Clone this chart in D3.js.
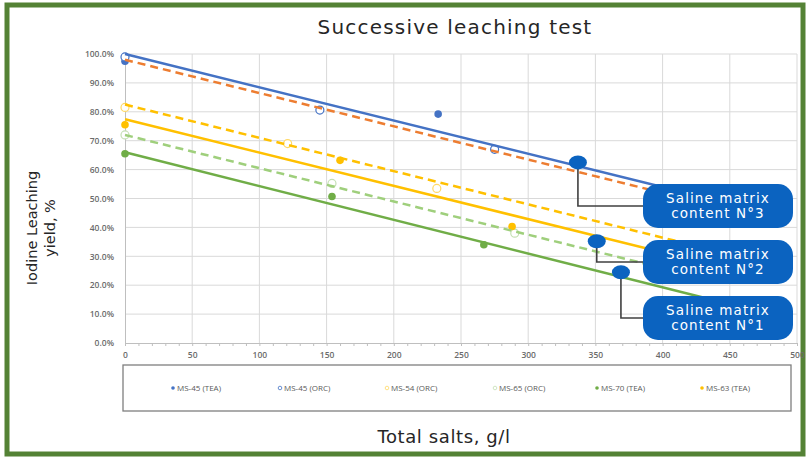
<!DOCTYPE html>
<html><head><meta charset="utf-8">
<script src="https://cdn.jsdelivr.net/npm/d3@7"></script>
<style>body{margin:0;background:#fff}svg{display:block}</style>
</head><body>
<svg id="c" width="808" height="459"></svg>
<script>
// ---- data ----
const xTicks = [0,50,100,150,200,250,300,350,400,450,500];
const yTicks = [0,0.1,0.2,0.3,0.4,0.5,0.6,0.7,0.8,0.9,1.0];
const seriesNames = ["MS-45 (TEA)","MS-45 (ORC)","MS-54 (ORC)","MS-65 (ORC)","MS-70 (TEA)","MS-63 (TEA)"];
const ms45TEA = [[0,0.975],[233,0.792]];
const ms45ORC = [[0,0.99],[145,0.806],[275,0.67]];
const ms54ORC = [[0,0.815],[121,0.69],[232,0.535]];
const ms65ORC = [[0,0.72],[154,0.552],[290,0.38]];
const ms70TEA = [[0,0.655],[154,0.507],[267,0.34]];
const ms63TEA = [[0,0.755],[160,0.632],[288,0.403]];
// trend lines (start / end)
const trendBlue = [[0,1.0],[430,0.505]];
const trendOrange = [[0,0.98],[430,0.485]];
const trendYellowDash = [[0,0.825],[430,0.33]];
const trendYellow = [[0,0.774],[430,0.279]];
const trendGreenDash = [[0,0.72],[430,0.225]];
const trendGreen = [[0,0.66],[445,0.14]];
// callouts: marker position and label
const calloutPoints = [[337,0.625],[351,0.352],[369,0.245]];
const calloutLabels = [["Saline matrix","content N°3"],["Saline matrix","content N°2"],["Saline matrix","content N°1"]];

const svg = d3.select("#c");
const W=808,H=459;
// green frame
svg.append("rect").attr("x",7).attr("y",5).attr("width",W-12).attr("height",H-10)
  .attr("fill","#fff").attr("stroke","#548235").attr("stroke-width",5);

const x = d3.scaleLinear().domain([0,500]).range([125,797]);
const y = d3.scaleLinear().domain([0,1]).range([343,54]);

// grid
const g = svg.append("g");
g.selectAll(".gx").data(xTicks.slice(1)).join("line")
  .attr("x1",d=>x(d)).attr("x2",d=>x(d)).attr("y1",y(1)).attr("y2",y(0))
  .attr("stroke","#d9d9d9").attr("stroke-width",1);
g.selectAll(".gy").data(yTicks.slice(1)).join("line")
  .attr("x1",x(0)).attr("x2",x(500)).attr("y1",d=>y(d)).attr("y2",d=>y(d))
  .attr("stroke","#d9d9d9").attr("stroke-width",1);

// axes
const xAxis = d3.axisBottom(x).tickValues(d3.range(0,501,10)).tickSize(3).tickFormat("");
const xa = svg.append("g").attr("transform",`translate(0,${y(0)})`).call(xAxis);
xa.select(".domain").attr("stroke","#bfbfbf");
xa.selectAll(".tick line").attr("stroke","#bfbfbf");
const xLab = d3.axisBottom(x).tickValues(xTicks).tickSize(0).tickPadding(9);
const xl = svg.append("g").attr("transform",`translate(0,${y(0)})`).call(xLab);
xl.select(".domain").remove();
xl.selectAll("text").attr("fill","#6b6b6b").attr("font-size","8.5px").attr("font-weight","600")
  .attr("font-family","'Open Sans',sans-serif");

const yAxis = d3.axisLeft(y).tickValues(yTicks).tickSize(0).tickPadding(11).tickFormat(d3.format(".1%"));
const ya = svg.append("g").attr("transform",`translate(${x(0)},0)`).call(yAxis);
ya.select(".domain").attr("stroke","#bfbfbf");
ya.selectAll("text").attr("fill","#6b6b6b").attr("font-size","8.5px").attr("font-weight","600")
  .attr("font-family","'Open Sans',sans-serif");

// points (drawn below trend lines)
const pts = [
  [ms45TEA,"#4472c4",true],
  [ms45ORC,"#4472c4",false],
  [ms54ORC,"#ffd966",false],
  [ms65ORC,"#c5e0b4",false],
  [ms70TEA,"#70ad47",true],
  [ms63TEA,"#ffc000",true]
];
pts.forEach(([d,c,filled])=>{
  svg.append("g").selectAll("circle").data(d).join("circle")
    .attr("cx",p=>x(p[0])).attr("cy",p=>y(p[1])).attr("r",filled?3.8:4)
    .attr("fill",filled?c:"#fff").attr("stroke",c).attr("stroke-width",filled?0:1.2);
});

// trend lines
const line = d3.line().x(d=>x(d[0])).y(d=>y(d[1]));
const trends = [
  [trendGreen,"#70ad47",null],
  [trendGreenDash,"#9fcf7c","8,5"],
  [trendYellow,"#ffc000",null],
  [trendYellowDash,"#ffc000","8,5"],
  [trendOrange,"#ed7d31","8,5"],
  [trendBlue,"#4472c4",null]
];
trends.forEach(([d,c,da])=>{
  svg.append("path").attr("d",line(d)).attr("fill","none").attr("stroke",c)
    .attr("stroke-width",2.5).attr("stroke-dasharray",da);
});

// callouts
const boxY = [184,240,296];
calloutPoints.forEach((p,i)=>{
  const cx=x(p[0]), cy=y(p[1]), by=boxY[i], mid=by+22;
  svg.append("path").attr("d",`M${cx},${cy}V${mid}H645`).attr("fill","none")
    .attr("stroke","#404040").attr("stroke-width",1.6);
  svg.append("ellipse").attr("cx",cx).attr("cy",cy).attr("rx",9).attr("ry",7)
    .attr("fill","#0b63c0");
  svg.append("rect").attr("x",643).attr("y",by).attr("width",150).attr("height",44)
    .attr("rx",15).attr("fill","#0b63c0");
  const t = svg.append("text").attr("x",718).attr("y",mid-3).attr("text-anchor","middle")
    .attr("fill","#fff").attr("font-size","13.5px").attr("letter-spacing","1.1px")
    .attr("font-family","'DejaVu Sans',sans-serif");
  t.append("tspan").attr("x",718).attr("dy",0).text(calloutLabels[i][0]);
  t.append("tspan").attr("x",718).attr("dy",15).text(calloutLabels[i][1]);
});

// legend
svg.append("rect").attr("x",123).attr("y",365).attr("width",668).attr("height",46)
  .attr("fill","#fff").attr("stroke","#7f7f7f").attr("stroke-width",1.3);
const legX = [173,280,387,495,597,702];
seriesNames.forEach((n,i)=>{
  const [,c,filled]=pts[i];
  svg.append("circle").attr("cx",legX[i]).attr("cy",388).attr("r",1.8)
    .attr("fill",filled?c:"#fff").attr("stroke",c).attr("stroke-width",filled?0:0.8);
  svg.append("text").attr("x",legX[i]+4).attr("y",391).text(n)
    .attr("fill","#595959").attr("font-size","8px").attr("font-family","'Open Sans',sans-serif");
});

// titles
svg.append("text").attr("x",455).attr("y",34).attr("text-anchor","middle")
  .attr("font-size","20px").attr("letter-spacing","1.2px").attr("fill","#262626")
  .attr("font-family","'DejaVu Sans',sans-serif")
  .text("Successive leaching test");
svg.append("text").attr("x",444).attr("y",443).attr("text-anchor","middle")
  .attr("font-size","18px").attr("letter-spacing","0.6px").attr("fill","#262626")
  .attr("font-family","'DejaVu Sans',sans-serif")
  .text("Total salts, g/l");
const yt = svg.append("text").attr("transform","translate(37,228) rotate(-90)").attr("text-anchor","middle")
  .attr("font-size","14.5px").attr("fill","#262626").attr("font-family","'DejaVu Sans',sans-serif");
yt.append("tspan").attr("x",0).attr("dy",0).text("Iodine Leaching");
yt.append("tspan").attr("x",0).attr("dy",18).text("yield, %");
</script>
</body></html>
